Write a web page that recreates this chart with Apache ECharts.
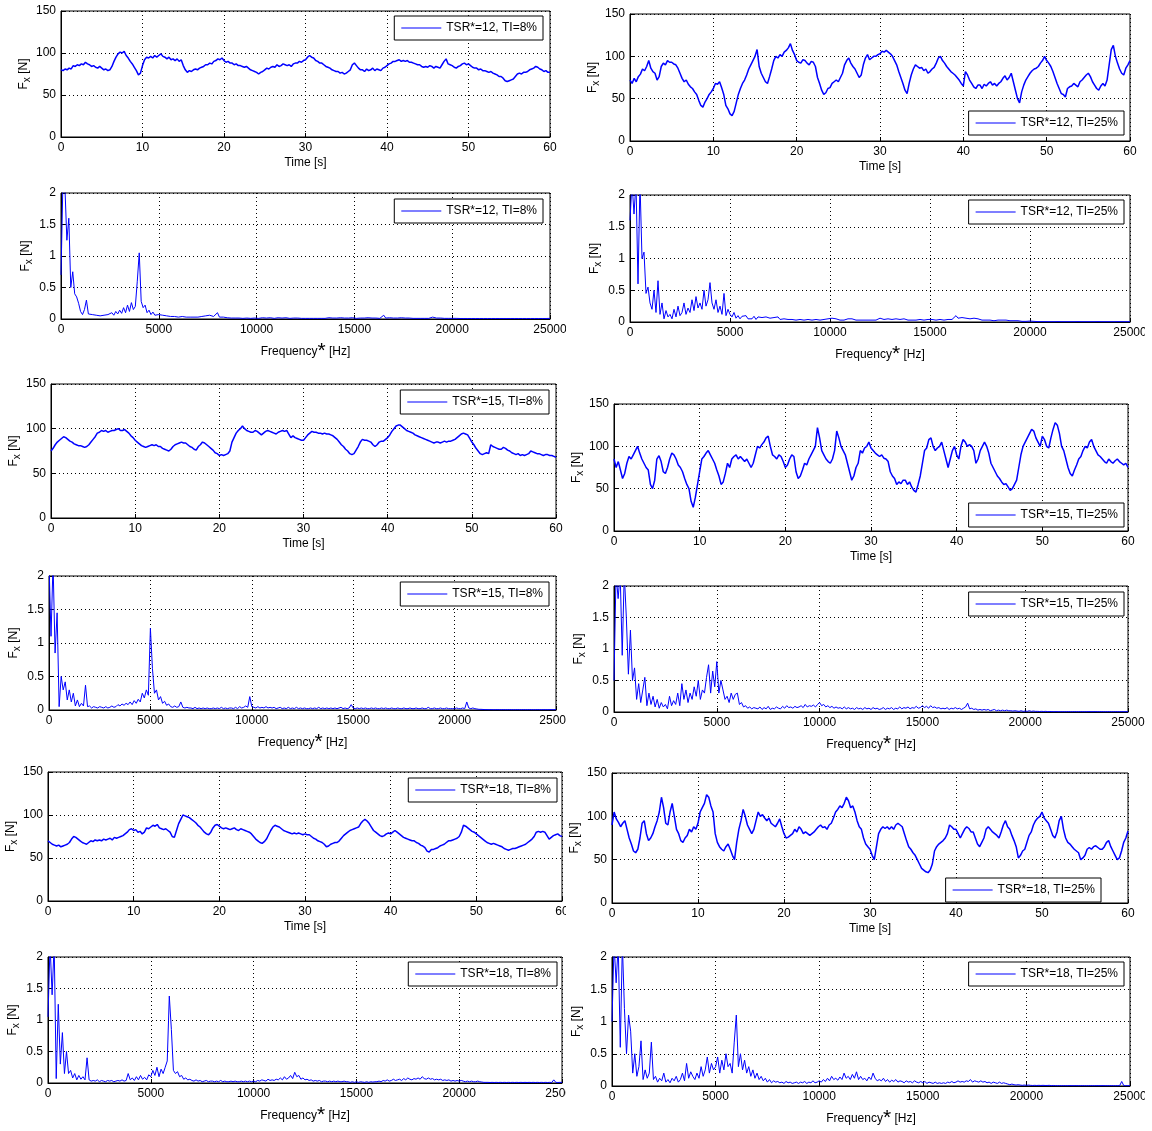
<!DOCTYPE html>
<html>
<head>
<meta charset="utf-8">
<script src="https://cdn.jsdelivr.net/npm/echarts/dist/echarts.min.js"></script>
<style>
  html, body { margin: 0; padding: 0; background: #fff; }
  #chart { width: 1152px; height: 1131px; }
</style>
</head>
<body>
<div id="chart"></div>
<script>
// ---- sampling steps ----
const TIME_STEP = 0.25;   // s
const FREQ_STEP = 100;    // Hz

// ---- axis ticks ----
const timeTicks = [0, 10, 20, 30, 40, 50, 60];
const freqTicks = [0, 5000, 10000, 15000, 20000, 25000];
const forceTicks = [0, 50, 100, 150];
const ampTicks = [0, 0.5, 1, 1.5, 2];

// ---- case labels ----
const caseNames = ['TSR*=12, TI=8%', 'TSR*=12, TI=25%', 'TSR*=15, TI=8%', 'TSR*=15, TI=25%', 'TSR*=18, TI=8%', 'TSR*=18, TI=25%'];

// ---- thrust force time series Fx [N], one value every 0.25 s ----
const fx12_8 = [
80,79,81,80, 82,81,85,84, 86,85,87,86, 89,87,86,84,
85,83,82,84, 82,80,81,79, 80,84,90,95, 99,101,100,102,
97,94,90,87, 83,79,74,76, 85,92,95,94, 96,94,97,95,
97,99,96,95, 93,95,92,93, 91,93,90,92, 85,80,77,79,
78,80,81,80, 82,83,84,86, 86,88,87,90, 91,93,92,94,
91,89,90,88, 88,86,87,85, 85,84,83,84, 82,80,79,78,
77,75,77,78, 80,82,81,83, 84,83,86,84, 85,87,86,85,
86,84,87,88, 88,90,89,91, 92,95,97,95, 94,91,90,88,
88,86,84,83, 82,80,79,78, 78,76,77,75, 76,78,80,86,
88,85,82,80, 80,78,81,79, 80,82,79,81, 80,79,82,83,
85,87,88,90, 90,91,92,90, 91,90,91,89, 89,88,87,86,
86,84,83,84, 83,85,84,82, 84,83,82,86, 90,93,87,86,
85,83,82,84, 85,87,88,86, 87,85,83,82, 82,80,81,79,
79,78,77,78, 76,75,74,72, 72,70,67,66, 67,68,69,72,
75,76,75,77, 77,78,80,81, 82,84,83,81, 80,78,79,77,
77];
const fx12_25 = [
72,68,74,70, 76,79,85,83, 88,95,86,82, 80,72,76,88,
92,90,95,93, 93,91,90,86, 80,74,70,72, 67,64,62,58,
55,48,42,40, 46,50,55,58, 62,68,67,70, 63,55,42,38,
32,30,35,45, 55,62,68,72, 78,85,90,95, 100,108,88,80,
75,70,68,76, 85,95,100,98, 102,100,105,107, 110,115,107,102,
95,93,92,96, 95,92,90,94, 93,88,75,68, 60,55,57,62,
63,68,70,72, 70,75,80,90, 95,98,92,88, 85,80,75,78,
90,98,102,96, 98,100,100,102, 103,106,105,107, 105,103,100,95,
90,82,75,68, 60,56,68,78, 85,90,88,86, 87,83,85,80,
82,85,87,92, 98,100,95,92, 88,85,82,80, 78,75,72,68,
65,82,78,72, 68,64,62,66, 66,62,67,65, 68,70,66,68,
65,68,70,74, 77,72,75,80, 70,60,50,45, 58,66,72,76,
80,83,85,86, 88,92,95,100, 95,92,88,82, 75,68,62,56,
55,52,62,64, 65,68,66,64, 70,72,75,78, 80,76,70,66,
62,60,65,68, 65,72,90,108, 113,100,92,85, 80,78,86,90,
95];
const fx15_8 = [
75,78,82,85, 87,89,91,90, 88,86,85,83, 82,81,81,80,
79,80,82,85, 88,91,95,96, 98,97,98,96, 97,98,98,99,
100,98,98,99, 97,95,92,90, 87,85,83,81, 80,79,80,81,
82,81,82,80, 80,78,77,76, 75,77,80,82, 83,84,85,84,
84,82,80,79, 77,76,80,82, 85,84,82,80, 78,76,73,72,
70,71,70,71, 72,75,85,90, 95,98,100,103, 100,98,97,96,
96,98,97,95, 93,95,97,98, 97,96,95,94, 96,97,98,97,
98,94,90,92, 90,89,88,87, 87,90,93,95, 97,96,96,95,
95,94,95,94, 94,93,92,90, 88,85,82,80, 77,75,72,71,
72,76,80,85, 88,87,87,86, 85,82,80,82, 85,86,86,88,
90,93,97,100, 103,104,104,102, 100,98,97,96, 95,93,92,91,
90,89,88,87, 86,85,84,85, 85,84,85,86, 85,86,86,87,
88,90,92,94, 95,94,93,89, 85,82,78,75, 72,71,72,73,
72,82,80,79, 78,77,77,79, 78,76,75,73, 72,71,72,70,
71,70,71,72, 75,74,73,72, 72,71,70,71, 71,70,70,69,
68];
const fx15_25 = [
85,75,82,72, 62,68,80,88, 85,90,95,100, 92,85,80,75,
72,55,50,60, 85,89,82,70, 68,75,85,92, 90,85,78,75,
70,62,55,50, 35,28,40,55, 70,85,88,92, 95,90,85,80,
72,65,55,58, 68,80,75,85, 88,90,85,88, 85,82,85,80,
75,80,90,100, 98,102,105,110, 112,100,90,88, 85,90,88,82,
75,78,85,90, 88,70,62,65, 72,80,78,85, 90,95,100,122,
110,95,90,85, 82,80,85,95, 118,110,100,95, 90,80,70,60,
65,75,80,95, 92,98,100,105, 98,95,92,90, 88,90,86,85,
82,70,65,62, 55,58,56,60, 60,55,58,52, 48,46,55,65,
80,95,98,108, 110,100,95,98, 100,105,95,85, 75,85,95,100,
90,85,100,108, 105,100,102,100, 95,80,85,95, 100,105,100,92,
80,75,70,65, 62,58,55,56, 52,48,50,55, 60,75,90,100,
105,110,115,120, 118,110,105,100, 112,108,100,98, 110,120,128,125,
115,100,95,85, 75,68,65,72, 78,85,88,95, 100,98,105,108,
100,95,90,88, 85,82,80,85, 82,80,83,85, 82,80,78,80,
75];
const fx18_8 = [
70,68,66,65, 64,65,63,64, 65,66,68,72, 75,74,72,70,
68,67,66,68, 70,69,71,70, 71,70,72,71, 72,73,71,74,
73,74,75,76, 78,80,83,84, 82,83,80,81, 78,80,85,84,
86,88,87,89, 85,84,83,84, 82,80,75,74, 82,90,95,100,
99,98,97,95, 93,91,88,86, 83,80,78,77, 80,85,88,89,
87,85,84,85, 84,83,84,85, 83,82,84,83, 82,81,80,78,
75,72,70,68, 67,69,72,77, 82,86,88,87, 86,84,82,81,
80,79,78,79, 78,79,78,77, 78,77,77,75, 73,72,70,69,
68,66,63,64, 66,67,68,68, 70,73,76,78, 80,82,83,84,
85,86,90,93, 95,93,90,86, 82,80,78,76, 75,76,78,79,
78,80,82,80, 78,76,74,73, 72,71,70,70, 68,67,65,64,
62,58,57,60, 60,61,62,64, 65,66,68,70, 70,71,72,73,
75,80,88,87, 85,83,81,80, 78,76,74,72, 70,68,67,66,
67,66,65,64, 63,61,60,59, 60,61,61,62, 63,64,65,66,
68,70,72,75, 80,81,80,81, 80,76,72,74, 76,77,78,76,
75];
const fx18_25 = [
90,105,97,93, 88,92,95,85, 75,68,60,58, 62,75,92,95,
80,72,75,80, 88,95,105,122, 110,92,90,105, 115,100,85,80,
72,70,75,78, 85,82,88,85, 92,105,110,115, 125,122,112,105,
80,70,65,62, 60,65,68,62, 55,50,70,85, 95,108,100,90,
85,80,85,95, 105,100,102,98, 95,98,92,90, 88,92,97,88,
80,75,76,78, 80,85,82,88, 85,80,82,80, 78,80,82,85,
88,90,87,88, 85,90,92,98, 105,108,112,110, 115,122,118,110,
112,105,95,88, 85,75,68,65, 62,55,50,65, 80,85,88,86,
88,85,88,85, 90,92,90,88, 80,72,65,62, 58,55,50,45,
40,38,36,35, 38,45,60,65, 68,70,72,75, 80,90,88,85,
85,80,75,80, 85,88,86,82, 82,75,68,65, 70,75,85,88,
85,82,80,78, 75,82,90,95, 88,85,78,72, 65,52,55,60,
62,70,78,82, 90,95,98,100, 105,98,95,92, 85,78,75,82,
95,100,85,75, 70,68,65,62, 60,58,50,52, 55,62,64,62,
65,66,64,62, 62,65,70,72, 65,60,55,50, 52,60,70,75,
83];

// ---- amplitude spectra Fx [N], one value every 100 Hz (0 ... 25000 Hz) ----
const sp12_8 = [
0.7,2.2,2.1,1.25,1.6,0.5,0.75,0.4,0.35,0.25,
0.12,0.07,0.15,0.3,0.08,0.06,0.07,0.05,0.06,0.04,
0.05,0.04,0.06,0.04,0.07,0.05,0.1,0.06,0.12,0.08,
0.14,0.09,0.18,0.1,0.22,0.12,0.26,0.15,0.2,0.6,
1.05,0.28,0.18,0.22,0.1,0.14,0.07,0.11,0.06,0.09,
0.07,0.05,0.06,0.04,0.05,0.03,0.04,0.03,0.04,0.03,
0.03,0.02,0.04,0.02,0.03,0.02,0.03,0.02,0.03,0.02,
0.03,0.02,0.04,0.03,0.05,0.03,0.06,0.08,0.04,0.03,
0.1,0.03,0.02,0.03,0.02,0.02,0.03,0.015,0.02,0.015,
0.02,0.015,0.02,0.01,0.02,0.015,0.02,0.01,0.02,0.015,
0.02,0.01,0.015,0.02,0.01,0.015,0.01,0.02,0.015,0.01,
0.015,0.02,0.01,0.015,0.01,0.02,0.015,0.01,0.03,0.015,
0.01,0.015,0.02,0.01,0.015,0.01,0.02,0.01,0.015,0.01,
0.015,0.01,0.02,0.01,0.015,0.01,0.015,0.02,0.01,0.015,
0.01,0.015,0.01,0.02,0.01,0.015,0.01,0.015,0.01,0.02,
0.015,0.01,0.02,0.015,0.01,0.015,0.01,0.02,0.01,0.015,
0.01,0.015,0.02,0.01,0.015,0.06,0.015,0.01,0.02,0.01,
0.015,0.01,0.015,0.01,0.02,0.01,0.015,0.01,0.015,0.01,
0.01,0.015,0.01,0.02,0.01,0.015,0.01,0.015,0.01,0.015,
0.03,0.01,0.015,0.01,0.015,0.01,0.01,0.015,0.01,0.01,
0.01,0.008,0.01,0.012,0.008,0.01,0.008,0.01,0.008,0.01,
0.008,0.01,0.008,0.01,0.008,0.01,0.008,0.01,0.008,0.01,
0.008,0.01,0.008,0.01,0.008,0.01,0.008,0.01,0.008,0.01,
0.008,0.01,0.008,0.01,0.008,0.01,0.008,0.01,0.008,0.01,
0.008,0.01,0.008,0.01,0.008,0.01,0.008,0.01,0.008,0.01,
0.01];
const sp12_25 = [
1.6,2.2,1.7,2.2,0.6,2.2,1.0,1.1,0.45,0.55,
0.3,0.2,0.5,0.15,0.65,0.12,0.3,0.05,0.18,0.08,
0.12,0.05,0.2,0.08,0.25,0.1,0.15,0.3,0.12,0.22,
0.15,0.35,0.18,0.4,0.22,0.3,0.2,0.5,0.25,0.35,
0.62,0.3,0.2,0.35,0.15,0.25,0.12,0.45,0.1,0.2,
0.12,0.08,0.15,0.06,0.1,0.05,0.09,0.06,0.1,0.05,
0.07,0.05,0.09,0.04,0.08,0.05,0.07,0.04,0.08,0.05,
0.06,0.04,0.07,0.05,0.08,0.04,0.06,0.05,0.07,0.04,
0.06,0.04,0.07,0.03,0.06,0.04,0.05,0.03,0.06,0.04,
0.05,0.03,0.06,0.04,0.05,0.03,0.05,0.04,0.03,0.05,
0.04,0.06,0.03,0.05,0.04,0.03,0.05,0.03,0.04,0.05,
0.03,0.05,0.04,0.03,0.06,0.03,0.04,0.03,0.05,0.03,
0.04,0.03,0.05,0.03,0.04,0.06,0.03,0.04,0.03,0.05,
0.03,0.04,0.03,0.05,0.03,0.04,0.03,0.05,0.04,0.03,
0.05,0.03,0.04,0.03,0.05,0.04,0.06,0.03,0.05,0.04,
0.07,0.04,0.05,0.03,0.06,0.04,0.05,0.03,0.05,0.04,
0.06,0.04,0.05,0.1,0.06,0.05,0.07,0.04,0.06,0.03,
0.05,0.04,0.06,0.03,0.05,0.04,0.03,0.05,0.03,0.04,
0.03,0.04,0.02,0.04,0.03,0.02,0.03,0.02,0.03,0.02,
0.02,0.03,0.02,0.015,0.02,0.015,0.01,0.015,0.01,0.01,
0.015,0.008,0.01,0.008,0.006,0.008,0.006,0.005,0.006,0.005,
0.005,0.006,0.005,0.005,0.006,0.005,0.005,0.006,0.005,0.005,
0.005,0.006,0.005,0.005,0.006,0.005,0.005,0.006,0.005,0.005,
0.005,0.006,0.005,0.005,0.006,0.005,0.005,0.006,0.005,0.005,
0.005,0.006,0.005,0.005,0.006,0.005,0.005,0.006,0.005,0.005,
0.005];
const sp15_8 = [
2.2,1.1,2.2,0.85,1.45,0.05,0.5,0.3,0.42,0.15,
0.3,0.12,0.25,0.06,0.15,0.05,0.1,0.06,0.37,0.05,
0.06,0.03,0.05,0.04,0.03,0.05,0.04,0.03,0.05,0.03,
0.04,0.06,0.04,0.05,0.08,0.06,0.09,0.07,0.1,0.08,
0.12,0.08,0.14,0.1,0.16,0.12,0.25,0.18,0.3,0.22,
1.22,0.62,0.25,0.3,0.15,0.2,0.1,0.13,0.07,0.09,
0.05,0.04,0.06,0.04,0.05,0.12,0.04,0.03,0.04,0.03,
0.03,0.02,0.04,0.02,0.03,0.02,0.03,0.02,0.03,0.02,
0.02,0.03,0.02,0.03,0.02,0.04,0.02,0.03,0.02,0.03,
0.03,0.02,0.04,0.02,0.05,0.03,0.04,0.06,0.04,0.2,
0.05,0.04,0.03,0.05,0.03,0.04,0.03,0.05,0.03,0.04,
0.03,0.04,0.02,0.03,0.04,0.02,0.03,0.02,0.04,0.02,
0.03,0.02,0.04,0.02,0.03,0.02,0.03,0.02,0.02,0.03,
0.02,0.03,0.02,0.04,0.02,0.03,0.02,0.03,0.02,0.03,
0.02,0.03,0.02,0.03,0.04,0.02,0.03,0.02,0.03,0.08,
0.03,0.02,0.03,0.02,0.03,0.02,0.03,0.02,0.02,0.03,
0.02,0.03,0.02,0.02,0.03,0.02,0.03,0.02,0.02,0.03,
0.02,0.02,0.03,0.02,0.02,0.03,0.02,0.02,0.03,0.02,
0.02,0.03,0.02,0.02,0.03,0.02,0.02,0.04,0.02,0.02,
0.03,0.02,0.02,0.03,0.02,0.02,0.03,0.02,0.02,0.02,
0.02,0.03,0.02,0.02,0.03,0.02,0.12,0.03,0.02,0.03,
0.02,0.015,0.01,0.01,0.008,0.006,0.006,0.005,0.006,0.005,
0.005,0.006,0.005,0.005,0.006,0.005,0.005,0.006,0.005,0.005,
0.005,0.006,0.005,0.005,0.006,0.005,0.005,0.006,0.005,0.005,
0.005,0.006,0.005,0.005,0.006,0.005,0.005,0.006,0.005,0.005,
0.005];
const sp15_25 = [
0.5,2.2,1.8,2.2,0.9,2.2,1.5,0.6,1.3,0.5,
0.7,0.2,0.45,0.15,0.35,0.55,0.1,0.3,0.12,0.25,
0.08,0.2,0.06,0.15,0.08,0.12,0.05,0.25,0.1,0.18,
0.12,0.3,0.1,0.45,0.2,0.35,0.15,0.3,0.2,0.4,
0.25,0.5,0.2,0.35,0.3,0.55,0.75,0.3,0.65,0.4,
0.8,0.3,0.5,0.35,0.2,0.25,0.15,0.3,0.2,0.28,
0.3,0.12,0.15,0.08,0.1,0.06,0.08,0.05,0.07,0.06,
0.05,0.08,0.04,0.07,0.05,0.09,0.04,0.06,0.05,0.08,
0.06,0.05,0.09,0.06,0.1,0.07,0.08,0.06,0.09,0.07,
0.08,0.1,0.07,0.12,0.08,0.1,0.09,0.11,0.08,0.12,
0.15,0.1,0.12,0.08,0.1,0.07,0.09,0.06,0.08,0.06,
0.07,0.05,0.08,0.05,0.07,0.05,0.06,0.04,0.07,0.05,
0.06,0.04,0.07,0.05,0.06,0.04,0.07,0.05,0.06,0.04,
0.05,0.07,0.04,0.06,0.05,0.07,0.04,0.06,0.05,0.08,
0.05,0.07,0.06,0.08,0.05,0.07,0.06,0.09,0.06,0.07,
0.1,0.07,0.09,0.06,0.1,0.07,0.08,0.06,0.07,0.05,
0.06,0.05,0.07,0.04,0.06,0.05,0.07,0.05,0.06,0.04,
0.06,0.08,0.14,0.05,0.06,0.04,0.05,0.03,0.04,0.03,
0.04,0.03,0.04,0.02,0.03,0.04,0.02,0.03,0.02,0.03,
0.02,0.03,0.02,0.02,0.015,0.02,0.015,0.01,0.02,0.01,
0.015,0.01,0.02,0.01,0.015,0.01,0.01,0.008,0.01,0.008,
0.01,0.006,0.008,0.006,0.005,0.006,0.005,0.005,0.005,0.005,
0.005,0.006,0.005,0.005,0.006,0.005,0.005,0.006,0.005,0.005,
0.005,0.006,0.005,0.005,0.006,0.005,0.005,0.006,0.005,0.005,
0.005,0.006,0.005,0.005,0.006,0.005,0.005,0.006,0.005,0.005,
0.005];
const sp18_8 = [
1.05,2.2,1.4,2.2,0.07,1.25,0.3,0.8,0.15,0.5,
0.15,0.2,0.08,0.15,0.05,0.12,0.06,0.1,0.05,0.4,
0.05,0.03,0.04,0.03,0.05,0.02,0.04,0.03,0.02,0.04,
0.03,0.04,0.02,0.03,0.04,0.03,0.05,0.03,0.04,0.15,
0.05,0.08,0.04,0.1,0.05,0.12,0.06,0.09,0.05,0.13,
0.1,0.2,0.12,0.25,0.1,0.22,0.15,0.25,0.35,1.38,
0.85,0.2,0.15,0.18,0.1,0.12,0.06,0.08,0.05,0.06,
0.04,0.03,0.05,0.03,0.04,0.02,0.03,0.04,0.02,0.03,
0.03,0.02,0.03,0.02,0.04,0.02,0.03,0.02,0.02,0.03,
0.02,0.03,0.02,0.02,0.03,0.02,0.03,0.02,0.03,0.02,
0.03,0.02,0.04,0.03,0.05,0.04,0.03,0.06,0.04,0.05,
0.04,0.06,0.05,0.08,0.05,0.1,0.06,0.08,0.12,0.07,
0.17,0.1,0.12,0.06,0.08,0.05,0.06,0.04,0.05,0.03,
0.04,0.03,0.04,0.02,0.03,0.03,0.02,0.03,0.02,0.03,
0.02,0.03,0.02,0.02,0.03,0.02,0.02,0.01,0.02,0.01,
0.02,0.01,0.02,0.015,0.01,0.02,0.01,0.02,0.015,0.02,
0.02,0.03,0.02,0.04,0.03,0.05,0.03,0.04,0.06,0.04,
0.05,0.06,0.04,0.07,0.05,0.08,0.06,0.05,0.07,0.06,
0.08,0.06,0.1,0.07,0.06,0.08,0.06,0.07,0.05,0.06,
0.05,0.06,0.04,0.05,0.04,0.05,0.03,0.04,0.03,0.04,
0.03,0.04,0.03,0.02,0.03,0.02,0.03,0.02,0.02,0.03,
0.02,0.015,0.01,0.01,0.01,0.008,0.01,0.008,0.01,0.008,
0.01,0.008,0.01,0.008,0.01,0.008,0.01,0.008,0.01,0.008,
0.01,0.008,0.01,0.008,0.01,0.008,0.01,0.008,0.01,0.008,
0.01,0.008,0.01,0.008,0.01,0.008,0.05,0.01,0.008,0.01,
0.01];
const sp18_25 = [
1.0,2.2,1.6,2.2,0.6,2.2,1.2,0.5,1.1,0.85,
0.2,0.5,0.15,0.3,0.7,0.1,0.25,0.12,0.2,0.68,
0.1,0.15,0.06,0.12,0.08,0.2,0.06,0.1,0.05,0.12,
0.08,0.15,0.06,0.1,0.2,0.08,0.35,0.12,0.22,0.15,
0.1,0.2,0.12,0.3,0.15,0.25,0.45,0.2,0.35,0.25,
0.3,0.45,0.2,0.4,0.25,0.5,0.3,0.35,0.2,0.68,
1.1,0.3,0.5,0.25,0.4,0.2,0.3,0.15,0.25,0.12,
0.2,0.1,0.15,0.08,0.12,0.06,0.1,0.05,0.08,0.06,
0.07,0.05,0.06,0.04,0.07,0.05,0.06,0.04,0.05,0.06,
0.04,0.06,0.05,0.07,0.04,0.06,0.05,0.08,0.05,0.06,
0.08,0.06,0.1,0.07,0.12,0.08,0.15,0.1,0.12,0.09,
0.14,0.1,0.2,0.12,0.15,0.1,0.18,0.12,0.22,0.1,
0.15,0.1,0.12,0.08,0.14,0.1,0.2,0.12,0.08,0.1,
0.08,0.12,0.07,0.1,0.06,0.09,0.07,0.1,0.06,0.08,
0.07,0.05,0.08,0.06,0.07,0.05,0.08,0.06,0.05,0.07,
0.05,0.07,0.04,0.06,0.05,0.04,0.06,0.04,0.05,0.04,
0.05,0.04,0.06,0.05,0.07,0.05,0.06,0.08,0.06,0.07,
0.06,0.08,0.07,0.1,0.06,0.08,0.07,0.06,0.08,0.06,
0.07,0.05,0.06,0.04,0.06,0.05,0.04,0.06,0.04,0.05,
0.04,0.03,0.02,0.03,0.02,0.015,0.02,0.015,0.01,0.015,
0.01,0.015,0.01,0.008,0.01,0.008,0.01,0.008,0.01,0.008,
0.008,0.01,0.006,0.008,0.006,0.005,0.006,0.005,0.006,0.005,
0.005,0.006,0.005,0.005,0.006,0.005,0.005,0.006,0.005,0.005,
0.005,0.006,0.005,0.005,0.006,0.005,0.005,0.006,0.005,0.005,
0.005,0.006,0.005,0.005,0.006,0.005,0.07,0.006,0.005,0.005,
0.005];

// ---- panel layout: [left, top, width, height] of each plot box, legend box right edge / top ----
const FONT = '"Liberation Sans", Arial, sans-serif';
const panels = [
  { kind: 'time', caseIdx: 0, values: fx12_8,  box: [61, 11, 489, 126],  legendRight: 543,  legendTop: 16 },
  { kind: 'freq', caseIdx: 0, values: sp12_8,  box: [61, 193, 489, 126], legendRight: 543,  legendTop: 199 },
  { kind: 'time', caseIdx: 2, values: fx15_8,  box: [51, 384, 505, 134], legendRight: 549,  legendTop: 390 },
  { kind: 'freq', caseIdx: 2, values: sp15_8,  box: [49, 576, 507, 134], legendRight: 549,  legendTop: 582 },
  { kind: 'time', caseIdx: 4, values: fx18_8,  box: [48, 772, 514, 129], legendRight: 557,  legendTop: 778 },
  { kind: 'freq', caseIdx: 4, values: sp18_8,  box: [48, 957, 514, 126], legendRight: 557,  legendTop: 962 },
  { kind: 'time', caseIdx: 1, values: fx12_25, box: [630, 14, 500, 127], legendRight: 1124, legendTop: 111 },
  { kind: 'freq', caseIdx: 1, values: sp12_25, box: [630, 195, 500, 127], legendRight: 1124, legendTop: 200 },
  { kind: 'time', caseIdx: 3, values: fx15_25, box: [614, 404, 514, 127], legendRight: 1124, legendTop: 503 },
  { kind: 'freq', caseIdx: 3, values: sp15_25, box: [614, 586, 514, 126], legendRight: 1124, legendTop: 592 },
  { kind: 'time', caseIdx: 5, values: fx18_25, box: [612, 773, 516, 130], legendRight: 1101, legendTop: 878 },
  { kind: 'freq', caseIdx: 5, values: sp18_25, box: [612, 957, 518, 129], legendRight: 1124, legendTop: 962 }
];

const W = 1152;
const LINE_BLUE = '#0000ff';
const dotted = { color: '#000', width: 1, type: [1, 3] };

function toPairs(values, step) {
  return values.map((v, i) => [i * step, v]);
}

const grids = [], xAxes = [], yAxes = [], legends = [], series = [];

panels.forEach((p, i) => {
  const isTime = p.kind === 'time';
  const xt = isTime ? timeTicks : freqTicks;
  const yt = isTime ? forceTicks : ampTicks;
  const name = caseNames[p.caseIdx];

  grids.push({
    left: p.box[0], top: p.box[1], width: p.box[2], height: p.box[3],
    containLabel: false, outerBoundsMode: 'none',
    show: true, borderColor: '#000', borderWidth: 1, backgroundColor: '#fff'
  });

  xAxes.push({
    type: 'value', gridIndex: i,
    min: xt[0], max: xt[xt.length - 1], interval: xt[1] - xt[0],
    axisLine: { show: true, onZero: false, lineStyle: { color: '#000', width: 1 } },
    axisTick: { show: true, inside: true, length: 4, lineStyle: { color: '#000' } },
    axisLabel: { color: '#000', fontSize: 12, fontFamily: FONT, margin: 5, formatter: v => String(v) },
    splitLine: { show: true, lineStyle: dotted },
    name: isTime ? 'Time [s]' : 'Frequency{s|*} [Hz]',
    nameLocation: 'middle', nameGap: isTime ? 20 : 22,
    nameTextStyle: {
      color: '#000', fontSize: 12, fontFamily: FONT,
      rich: { s: { color: '#000', fontSize: 21, fontFamily: FONT } }
    }
  });

  yAxes.push({
    type: 'value', gridIndex: i,
    min: yt[0], max: yt[yt.length - 1], interval: yt[1] - yt[0],
    axisLine: { show: true, onZero: false, lineStyle: { color: '#000', width: 1 } },
    axisTick: { show: true, inside: true, length: 4, lineStyle: { color: '#000' } },
    axisLabel: { color: '#000', fontSize: 12, fontFamily: FONT, margin: 5, formatter: v => String(v) },
    splitLine: { show: true, lineStyle: dotted },
    name: 'F{b|x} [N]',
    nameLocation: 'middle', nameGap: 27,
    nameTextStyle: {
      color: '#000', fontSize: 12, fontFamily: FONT, lineHeight: 16,
      rich: { b: { color: '#000', fontSize: 10, fontFamily: FONT, verticalAlign: 'bottom' } }
    }
  });

  legends.push({
    right: W - p.legendRight, top: p.legendTop,
    orient: 'horizontal',
    data: [{ name: name, icon: 'rect' }],
    selectedMode: false,
    itemWidth: 40, itemHeight: 1, itemGap: 0,
    padding: [6, 6, 6, 7],
    borderColor: '#000', borderWidth: 1, borderRadius: 0,
    backgroundColor: '#fff',
    itemStyle: { color: LINE_BLUE, borderWidth: 0 },
    textStyle: { color: '#000', fontSize: 12, fontFamily: FONT }
  });

  series.push({
    type: 'line', name: name,
    xAxisIndex: i, yAxisIndex: i,
    data: toPairs(p.values, isTime ? TIME_STEP : FREQ_STEP),
    symbol: 'none', showSymbol: false,
    clip: true, silent: true, animation: false,
    lineStyle: { color: LINE_BLUE, width: isTime ? 1.5 : 1 },
    itemStyle: { color: LINE_BLUE }
  });
});

// the left half of the figure ends at x = 566; frequency tick labels running past it are cut
const cutRows = [[321, 16], [712, 16], [1085, 16], [903, 14]];
const cuts = cutRows.map(r => ({
  type: 'rect', left: 566, top: r[0], shape: { width: 14, height: r[1] },
  style: { fill: '#fff' }, z: 100
}));
cuts.push({ type: 'rect', left: 1145, top: 0, shape: { width: 7, height: 1131 }, style: { fill: '#fff' }, z: 100 });

const chart = echarts.init(document.getElementById('chart'), null, { renderer: 'canvas' });
chart.setOption({
  backgroundColor: '#fff',
  animation: false,
  grid: grids,
  xAxis: xAxes,
  yAxis: yAxes,
  legend: legends,
  series: series,
  graphic: cuts
});
</script>
</body>
</html>
